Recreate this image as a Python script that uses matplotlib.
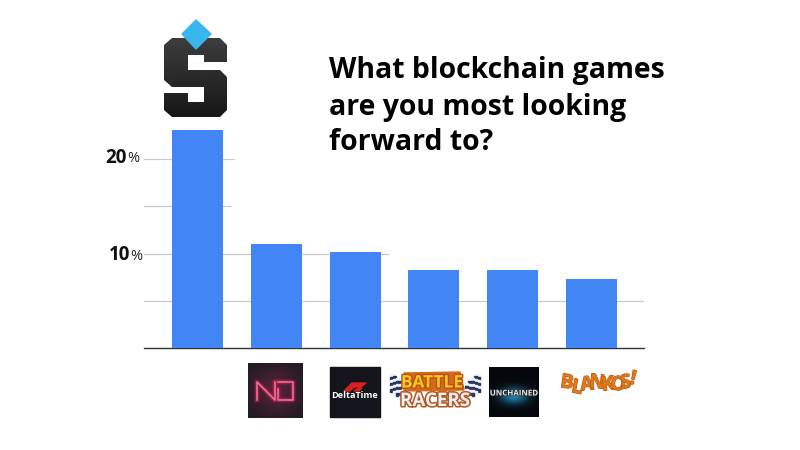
"""Blockchain games survey chart, with hand drawn logos."""

import matplotlib
matplotlib.use("Agg")
import matplotlib.patheffects as pe
import matplotlib.pyplot as plt
import numpy as np
from matplotlib.patches import Polygon, Rectangle

plt.rcParams["font.family"] = ["Open Sans", "DejaVu Sans"]

games = ["Sandbox", "Neon District", "Delta Time", "Battle Racers", "Gods Unchained", "Blankos"]
shares = [23.05, 11.0, 10.2, 8.25, 8.25, 7.3]
grid_ticks = [5, 10, 15, 20]
grid_ends = [1.0, 0.488, 0.172, 0.18]  # the source image blanks part of the gridlines
labelled_ticks = [10, 20]
title_lines = ["What blockchain games", "are you most looking", "forward to?"]

fig = plt.figure(figsize=(8, 4.5), dpi=100)

# main chart
ax = fig.add_axes([144 / 800, 102 / 450, 500 / 800, 226.8 / 450])
ax.bar(range(len(games)), shares, width=0.647, color="#4285f4", zorder=3)
ax.set_xlim(-0.68, 5.666)
ax.set_ylim(0, 24)
ax.set_xticks([])
ax.set_yticks([])
for tick, end in zip(grid_ticks, grid_ends):
    ax.plot([0, end], [tick, tick], transform=ax.get_yaxis_transform(), color="#cacaca",
            linewidth=0.9, zorder=1)
for side in ["top", "left", "right"]:
    ax.spines[side].set_visible(False)
ax.spines["bottom"].set_color("#333333")
ax.spines["bottom"].set_linewidth(1.0)

# the two labels do not sit quite the same in the source
label_shift = {10: (-2, -2), 20: (-5, 1)}
for tick in labelled_ticks:
    dx, dy = label_shift[tick]
    ax.annotate(f"{tick}", (0, tick), xycoords=("axes fraction", "data"), xytext=(dx - 12, dy),
                textcoords="offset pixels", ha="right", va="center", fontsize=13.5,
                fontweight="bold", color="#111111")
    ax.annotate("%", (0, tick), xycoords=("axes fraction", "data"), xytext=(dx, dy - 1),
                textcoords="offset pixels", ha="right", va="center", fontsize=10.5, color="#222222")

# overlay in pixel coordinates for title and logos
px = fig.add_axes([0, 0, 1, 1], zorder=5)
px.axis("off")
px.patch.set_alpha(0)

for line, y in zip(title_lines, [78, 114.5, 150]):
    px.text(329, y, line, fontsize=20.4, fontweight="bold", color="black", va="baseline", ha="left")

# S logo
s_shape = [(172, 38), (220, 38), (227, 45), (227, 62), (204, 62), (204, 55), (188, 55), (188, 70),
           (220, 70), (227, 77), (227, 110), (220, 117), (172, 117), (164, 110), (164, 93), (188, 93),
           (188, 102), (204, 102), (204, 87), (172, 87), (164, 80), (164, 45)]
grad = np.linspace(0.24, 0.09, 64).reshape(-1, 1)
im = px.imshow(grad, extent=(164, 227, 117, 38), cmap="gray", vmin=0, vmax=1, aspect="auto", zorder=2)
s_patch = Polygon(s_shape, closed=True, transform=px.transData, facecolor="none", edgecolor="none")
px.add_patch(s_patch)
im.set_clip_path(s_patch)
px.add_patch(Polygon([(196, 20), (211, 34), (196, 49), (182, 34)], color="#38b6ee", zorder=3))

# ND logo
yy, xx = np.mgrid[-1:1:55j, -1:1:55j]
haze = np.exp(-(xx ** 2 + yy ** 2) / 0.6)
nd_bg = np.dstack([0.13 + 0.22 * haze, 0.11 + 0.02 * haze, 0.14 + 0.08 * haze])
px.imshow(nd_bg, extent=(248, 303, 418, 363), aspect="auto", zorder=2)
nd_x = np.array([257, 257, 275, 275, np.nan, 278, 293, 293, 278, 278])
nd_y = np.array([400, 382, 400, 382, np.nan, 382, 382, 400, 400, 389])
px.plot(nd_x, nd_y, color="#ff2a6d", linewidth=3.5, alpha=0.35, zorder=3)
px.plot(nd_x, nd_y, color="#ff6f9c", linewidth=1.1, zorder=4)

# Delta Time logo
px.add_patch(Rectangle((330, 367), 50, 50, color="#14141c", zorder=2))
px.add_patch(Polygon([(344, 391), (352, 383), (366, 383), (361, 387), (354, 387), (350, 391)],
                     color="#d8201f", zorder=3))
px.add_patch(Polygon([(354, 391), (358, 388), (362, 388), (359, 391)], color="#d8201f", zorder=3))
px.text(355, 396, "DeltaTime", fontsize=6.6, fontweight="bold", color="white", ha="center", va="center", zorder=4)

# Battle Racers logo
for col in range(5):
    for row in range(6):
        tone = "#26345e" if (row + col) % 2 else "#eef1f7"
        y = 374 + row * 3 + col * 2.2
        px.add_patch(Rectangle((390 + col * 3, y), 3, 3, color=tone, zorder=2))
        px.add_patch(Rectangle((477 - col * 3, y), 3, 3, color=tone, zorder=2))
px.add_patch(Polygon([(404, 373), (460, 372), (464, 390), (404, 391)], color="#d9681a", zorder=3))
px.text(432, 382.5, "BATTLE", fontsize=12.5, fontweight="bold", color="#f8c51c", ha="center", va="center", zorder=4,
        path_effects=[pe.withStroke(linewidth=2, foreground="#b5521a")])
px.text(435, 401, "RACERS", fontsize=13.5, fontweight="bold", color="#e8f0f6", ha="center", va="center", zorder=4,
        path_effects=[pe.withStroke(linewidth=2.2, foreground="#b5571f")])

# Unchained logo
yy, xx = np.mgrid[-1:1:50j, -1:1:50j]
glow = np.exp(-(xx ** 2 / 0.3 + (yy - 0.15) ** 2 / 0.1))
rgb = np.dstack([0.02 + 0.1 * glow, 0.03 + 0.5 * glow, 0.05 + 0.65 * glow])
px.imshow(rgb, extent=(489, 539, 417, 367), aspect="auto", zorder=2)
px.text(514, 393, "UNCHAINED", fontsize=5.7, fontweight="bold", color="#e6e6e6", ha="center", va="center", zorder=4,
        path_effects=[pe.withStroke(linewidth=1, foreground="#222222")])

# Blankos logo
letters = ["B", "L", "A", "N", "K", "O", "S", "!"]
letter_x = [567, 577, 587, 597, 608, 618, 626, 633]
letter_y = [383, 388, 385, 383, 385, 385, 383, 379]
letter_rot = [-8, -10, 6, -6, 8, -6, 8, -12]
for ch, lx, ly, rot in zip(letters, letter_x, letter_y, letter_rot):
    px.text(lx, ly, ch, fontsize=14, fontweight="bold", color="#e07a18", rotation=rot,
            ha="center", va="center", zorder=4,
            path_effects=[pe.withStroke(linewidth=0.8, foreground="#b34f10")])

px.set_xlim(0, 800)
px.set_ylim(450, 0)

fig.savefig("out.png", dpi=100)
